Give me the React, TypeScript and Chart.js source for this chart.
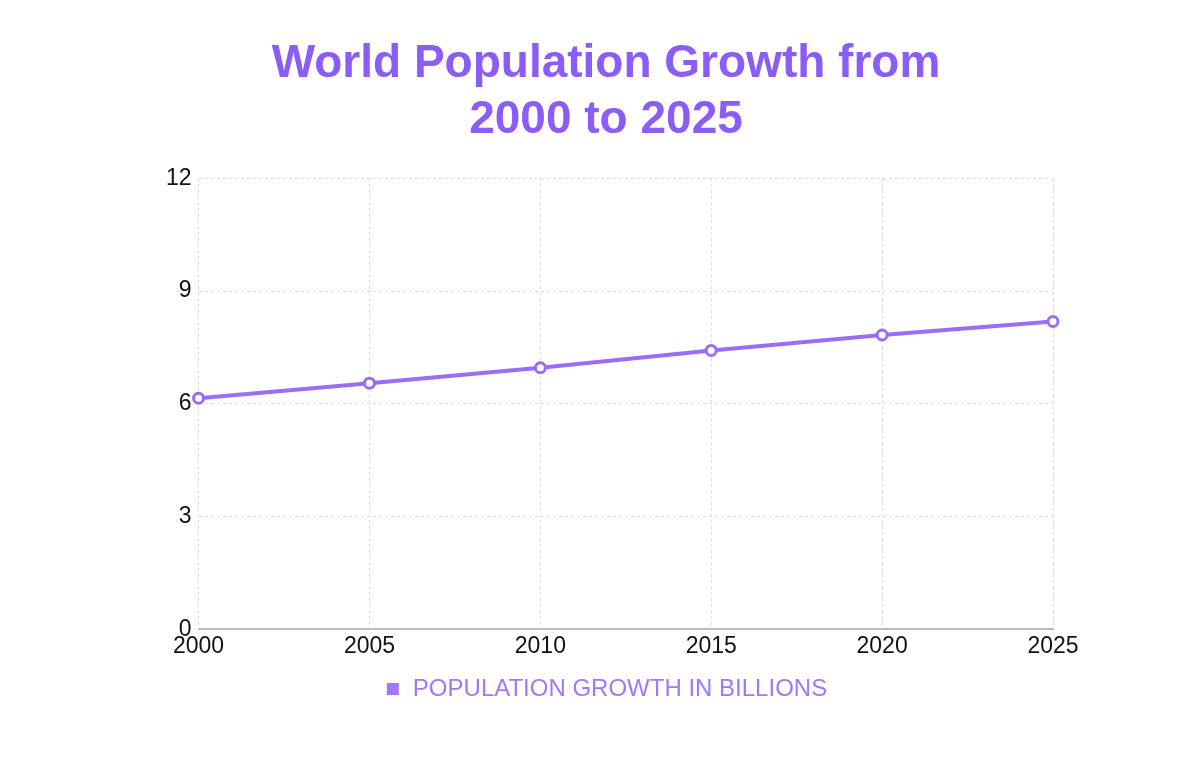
import React, { useEffect, useRef } from "react";
import { Chart, registerables } from "chart.js";

Chart.register(...registerables);

const years = ["2000", "2005", "2010", "2015", "2020", "2025"];
const population = [6.15, 6.55, 6.96, 7.42, 7.83, 8.19];
const seriesLabel = "POPULATION GROWTH IN BILLIONS";
const titleLines = ["World Population Growth from", "2000 to 2025"];
const yTicks = [0, 3, 6, 9, 12];

export default function App() {
  const ref = useRef<HTMLCanvasElement | null>(null);
  useEffect(() => {
    if (!ref.current) return;
    const chart = new Chart(ref.current, {
      type: "line",
      data: {
        labels: years,
        datasets: [
          {
            label: seriesLabel,
            data: population,
            borderColor: "#9b6cf6",
            backgroundColor: "#a078f8",
            borderWidth: 4,
            pointRadius: 5,
            pointBorderWidth: 3,
            pointBackgroundColor: "#ffffff",
            pointBorderColor: "#9b6cf6",
            tension: 0,
          },
        ],
      },
      options: {
        animation: false,
        responsive: true,
        maintainAspectRatio: false,
        layout: { padding: { left: 151, right: 139, top: 28, bottom: 52 } },
        plugins: {
          title: {
            display: true,
            text: titleLines,
            color: "#8b5cf6",
            font: { family: "Liberation Sans, Arial, sans-serif", size: 46, weight: "bold", lineHeight: 1.22 },
            padding: { top: 0, bottom: 30 },
          },
          legend: {
            display: true,
            position: "bottom",
            labels: {
              color: "#a078f8",
              usePointStyle: true,
              pointStyle: "rect",
              boxWidth: 16,
              boxHeight: 12,
              padding: 14,
              font: { family: "Liberation Sans, Arial, sans-serif", size: 24 },
              generateLabels: (c: any) => [
                {
                  text: seriesLabel,
                  fillStyle: "#a078f8",
                  strokeStyle: "#a078f8",
                  lineWidth: 0,
                  pointStyle: "rect",
                  datasetIndex: 0,
                  fontColor: "#a078f8",
                },
              ],
            },
          },
          tooltip: { enabled: false },
        },
        scales: {
          x: {
            grid: { color: "#dddddd", drawTicks: false } as any,
            border: { display: true, color: "#bbbbbb", width: 2, dash: [3, 3] } as any,
            ticks: {
              color: "#111111",
              padding: 3,
              font: { family: "Liberation Sans, Arial, sans-serif", size: 23 },
              maxRotation: 0,
            },
          },
          y: {
            min: 0,
            max: 12,
            afterBuildTicks: (axis: any) => {
              axis.ticks = yTicks.map((v) => ({ value: v }));
            },
            grid: { color: "#dddddd", drawTicks: false } as any,
            border: { display: false, dash: [3, 3] } as any,
            ticks: {
              color: "#111111",
              padding: 7,
              font: { family: "Liberation Sans, Arial, sans-serif", size: 23 },
            },
          },
        },
      },
    });
    return () => chart.destroy();
  }, []);
  return (
    <div style={{ width: "100%", height: 755, position: "relative" }}>
      <canvas ref={ref} />
    </div>
  );
}
